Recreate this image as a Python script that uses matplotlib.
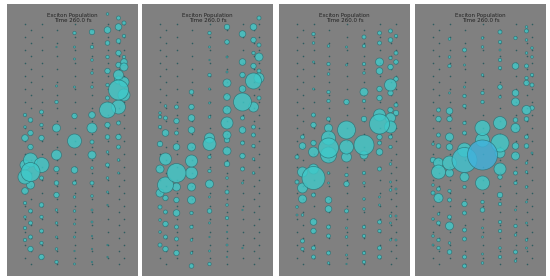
import numpy as np
import matplotlib
matplotlib.use("Agg")
import matplotlib.pyplot as plt
from matplotlib.colors import LinearSegmentedColormap, Normalize

# Column x-positions of the cylindrical lattice (projected), shared by all panels
col_x = [18, 23.5, 34.5, 49.5, 67.5, 85, 100.5, 111.5, 117]

# Background (low population) sites: y-values for even / odd columns
bg_y_even = [24, 37, 50, 63, 76, 89, 102, 115, 128, 141, 154, 167, 180, 193, 206, 219, 232, 245, 258]
bg_y_odd = [30, 43, 56, 69, 82, 95, 108, 121, 134, 147, 160, 173, 186, 199, 212, 225, 238, 251, 264]

# Per panel: (column index, y, radius) of exciton population circles
panel1 = [
    (7,18,2), (8,23,2), (6,30,3.3), (7,27,3.3), (5,32,2.7), (4,33,1.7), (6,14,1.3),
    (6,43,2.3), (7,41,2.3), (8,36,1.7), (5,47,1.7), (4,47,1), (3,47,0.7),
    (7,53,2.7), (6,57,1.7), (8,57,1.7), (8,62,3.3), (5,60,1.3), (4,59,1),
    (7,65,2.7), (8,67,4), (6,71,2.7), (5,73,1.3),
    (7,75,5), (7,80,4), (8,82,5),
    (6,85,1.7), (5,87,1.3), (4,87,1), (3,86,1),
    (7,90,10), (6,98,2), (8,95,6),
    (6,110,8), (7,107,7),
    (5,115,3.3), (4,116,2.7), (3,102,1.7), (2,112,2), (1,120,2.3), (0,115,1.7),
    (5,128,5), (6,125,2.7), (7,123,2), (3,128,4), (2,125,1.7), (1,133,2.7), (0,127,1.3),
    (4,141,7), (2,138,2.7), (0,138,3.3), (6,137,2.3), (7,137,2.7),
    (5,142,2), (7,147,2), (6,152,1.3), (1,147,2.7),
    (3,155,5), (5,155,4),
    (1,160,7), (2,165,7.5), (0,165,5), (1,172,9.5), (0,177,7), (1,185,4), (0,191,3.3), (2,178,2),
    (3,169,2.7), (4,170,3.3), (5,168,1.3), (6,165,2), (7,160,1.3),
    (3,183,2.3), (4,183,2), (5,183,2), (6,178,1.3), (7,173,1),
    (3,195,2.7), (4,197,1.3), (5,196,1.3), (6,192,1),
    (2,205,2.3), (1,211,2), (0,203,1.7),
    (3,210,1.3), (4,211,1.3), (5,210,1), (6,205,0.7),
    (2,217,1.7), (1,223,2), (0,217,1.3),
    (3,223,1.3), (4,224,1), (5,222,1),
    (2,231,2), (1,237,2), (0,228,1.7),
    (3,237,1), (4,237,1), (5,236,0.7),
    (0,240,1.7), (1,249,2.7), (2,243,1.7),
    (3,249,1.3), (4,251,0.7), (5,249,0.7), (6,245,0.7),
    (2,257,2.7), (3,262,1.7), (4,264,1), (5,262,0.7), (6,257,0.7),
]

panel2 = [
    (8,18,2), (7,27,3.3), (5,27,2.7), (6,34,3.3), (4,33,1.7),
    (7,40,2.7), (8,45,2), (5,42,2.3), (4,47,1),
    (7,53,1.7), (8,57,4), (6,62,3.3), (5,57,1), (4,60,0.7),
    (7,66,2.7), (8,71,2), (6,75,2.7), (5,72,1), (4,75,1.7),
    (7,81,8), (8,78,5), (5,83,4), (6,89,3.3), (4,89,1), (3,92,2.3),
    (6,102,9), (7,107,5), (5,97,3.3), (8,98,2),
    (5,110,4), (4,103,1), (3,107,2.7), (2,107,2), (1,106,1.3), (0,113,1.3),
    (5,123,6), (6,118,2), (7,127,2), (4,117,1.3), (3,118,3.3), (2,121,2.7), (1,118,2), (0,117,1.7),
    (5,135,4), (6,130,3.3), (7,135,2), (4,138,5), (3,130,3.3), (2,133,2), (1,133,3.3), (0,127,1.7),
    (4,144,6.5), (5,140,2.7), (6,143,2), (7,146,1.7),
    (0,144,2.7), (2,147,3.3), (3,147,4),
    (5,151,4), (4,157,1.7), (6,156,2.7), (7,159,1.3),
    (1,159,6), (3,161,6), (0,169,4), (2,173,9.5), (3,173,6), (1,185,8), (2,187,4), (0,193,4),
    (1,198,2.7), (2,200,2.7), (3,200,4), (3,187,4),
    (5,164,2.7), (4,171,1.7), (6,169,2), (7,173,1.3),
    (4,184,4), (5,178,1.3), (6,183,1), (5,192,2), (4,197,1),
    (0,207,2), (1,212,2), (2,213,3.3), (3,213,1.7), (4,211,2.3), (5,205,1.3), (6,210,0.7),
    (0,220,1.3), (1,224,2.7), (2,227,2), (3,227,1.7), (4,223,1), (5,218,1.7),
    (0,232,1.3), (1,237,2), (2,239,2), (3,240,1.3), (4,237,0.7), (5,232,0.7),
    (0,245,2), (1,249,2.7), (2,253,2.7), (3,253,1.3), (4,251,1), (5,245,1), (6,248,0.7),
    (3,266,2.3), (4,264,1.7), (5,257,0.7),
]

panel3 = [
    (2,34,1.7), (2,43,1.3), (3,46,1.3), (4,47,1), (5,37,2), (5,46,1.7), (6,33,2), (7,31,2),
    (8,36,1.7), (7,40,2.3), (6,43,2),
    (8,53,2), (7,58,1.7), (6,62,4), (7,67,2.7), (8,62,2.3), (6,71,3.3), (5,64,1.7), (5,73,1.3),
    (3,64,1.7), (3,74,1.3), (4,65,1), (2,62,1),
    (7,85,6), (8,79,2.3), (7,93,2.7), (6,89,2.7), (6,98,2.7), (5,92,4), (5,101,1.7), (4,102,2.7),
    (3,92,1.7), (3,101,1.7), (2,89,1),
    (8,105,2), (7,110,2.7), (6,115,6), (7,118,5), (8,113,2.7), (6,124,10), (7,127,6), (5,119,2.7),
    (4,130,9), (5,145,10), (3,119,2), (3,128,4), (2,115,2), (2,125,2.7), (1,137,2), (3,138,7),
    (6,137,2.7), (7,137,2),
    (3,148,10), (3,155,8), (4,147,7), (4,157,5), (5,155,4), (6,152,3.3), (6,143,2), (2,152,5),
    (2,143,2.7), (1,146,3.3), (0,157,2),
    (7,147,1.7), (7,164,1.3), (6,169,2),
    (1,172,5), (2,169,5), (2,178,11.5), (1,188,5), (0,182,2), (1,199,4), (2,195,2),
    (3,173,1.3), (3,183,1), (4,175,1.7), (4,184,2.7), (5,173,1.7), (5,183,1.3),
    (3,200,3.3), (3,209,3.3), (4,211,2), (5,199,1.3), (5,209,1.3), (6,197,1), (6,205,1),
    (0,207,1.3), (0,215,1), (1,215,1.3), (2,222,3.3), (2,231,2.7), (3,227,2), (3,236,2), (4,228,1),
    (4,237,1.3), (5,227,1.7), (5,236,1.7), (6,222,2), (6,231,1.7),
    (1,241,2), (1,249,1.7), (2,248,2), (2,257,2), (3,253,2), (3,263,1.3), (4,255,1), (4,264,0.7),
    (5,253,1.7), (5,262,1.7), (6,248,2), (6,257,2),
    (7,182,1), (7,190,1.3), (8,189,1), (7,216,1.3), (8,216,1), (7,223,1), (8,240,1), (7,240,1),
]

panel4 = [
    (5,32,2), (4,38,1.3), (3,50,2), (2,39,1.3), (7,31,2), (7,27,1.3), (6,38,1.7), (7,40,1.3), (5,42,1.7),
    (4,47,1.3), (5,50,1), (2,57,1.3), (2,66,1.7), (3,65,1),
    (5,60,1.7), (5,68,1.7), (6,66,3.3), (7,66,2), (8,57,1.3), (7,53,1.3), (8,48,1.3),
    (4,75,1.3), (8,75,1.7), (7,83,2.7), (8,85,2), (7,78,1.7), (5,87,2.3), (4,93,1.7), (3,87,1),
    (3,96,1.7), (2,93,1),
    (6,93,3.3), (6,102,4), (7,110,4.5), (8,108,2.3), (5,97,1.3), (4,102,1.7), (3,106,1.7),
    (2,111,3.3), (1,110,2), (2,119,2.7), (1,119,2.7),
    (5,123,6.5), (4,128,7.5), (6,120,2.3), (6,128,4.5), (3,123,1.7), (3,133,2), (2,137,4), (1,135,2),
    (7,119,2.3), (7,137,2),
    (4,155,15), (3,160,12.5), (3,150,7), (5,143,9), (5,153,5), (4,140,7), (2,163,7), (1,163,5),
    (1,172,7), (2,173,4), (0,160,2.7), (2,147,3.3), (1,146,2.3), (0,144,1.3),
    (5,169,6), (6,146,3.3), (6,156,4), (7,146,2.3), (7,163,1.3), (8,153,1),
    (3,177,4.5), (4,183,7), (3,187,1.7), (5,177,2.3), (6,173,2), (6,183,1.7), (7,172,1.3), (7,187,1.3),
    (1,198,4.5), (0,193,2), (1,189,2), (2,191,1.7), (2,200,2), (0,185,1.3),
    (3,204,2.7), (3,213,2), (4,202,1.7), (4,210,2.3), (5,195,2.7), (5,204,1.7), (6,210,1), (7,202,1),
    (2,217,2), (1,214,1.3), (2,226,4), (1,223,2), (0,219,1.3),
    (3,230,2), (3,239,2), (4,228,1), (4,237,1), (5,222,1.7), (5,231,1.7), (6,226,1.7), (6,235,1.3),
    (7,223,1), (7,240,1.3),
    (0,236,1.3), (1,240,1.7), (1,248,1.7), (2,243,1.3), (2,252,2.3), (0,245,1),
    (3,257,2), (3,266,2), (4,254,1), (4,263,1.3), (5,248,1.3), (5,257,1.7), (6,252,2), (6,261,1.3),
    (7,248,1),
]

panels = [panel1, panel2, panel3, panel4]
panel_left_px = [7, 142, 279, 415]
title_text = "Exciton Population\nTime 260.0 fs"

W, H = 550, 280
fig = plt.figure(figsize=(W / 100, H / 100), dpi=100)
fig.patch.set_facecolor("white")

PX2PT = 0.72  # 1 px at 100 dpi in points
pop_cmap = LinearSegmentedColormap.from_list("pop", ["#3fcaca", "#40b2dc"])
pop_norm = Normalize(vmin=11.5, vmax=15, clip=True)


def rad_to_s(r):
    return (2 * np.asarray(r, dtype=float) * PX2PT) ** 2


bg_x, bg_y = [], []
for ci, cx in enumerate(col_x):
    ys = bg_y_even if ci % 2 == 0 else bg_y_odd
    bg_x += [cx] * len(ys)
    bg_y += ys

for left, data in zip(panel_left_px, panels):
    ax = fig.add_axes([left / W, 4 / H, 131 / W, 272 / H])
    ax.set_facecolor("#808080")
    ax.set_xlim(0, 131)
    ax.set_ylim(276, 4)
    ax.set_xticks([])
    ax.set_yticks([])
    for sp in ax.spines.values():
        sp.set_visible(False)

    ax.scatter(bg_x, bg_y, s=rad_to_s(0.8), c="#2f5d60", linewidths=0, zorder=1)

    arr = np.array(data, dtype=float)
    order = np.argsort(arr[:, 2])
    arr = arr[order]
    xs = np.array(col_x)[arr[:, 0].astype(int)]
    ys = arr[:, 1]
    rs = arr[:, 2]
    ax.scatter(xs, ys, s=rad_to_s(rs), c=rs, cmap=pop_cmap, norm=pop_norm,
               edgecolor="#2a6e72", linewidths=0.5, alpha=0.8, zorder=2)

    ax.text(0.5, 0.968, title_text, transform=ax.transAxes, ha="center", va="top",
            fontsize=4.0, color="#222222", linespacing=1.05, zorder=5)

fig.savefig("out.png", dpi=100, facecolor="white")
